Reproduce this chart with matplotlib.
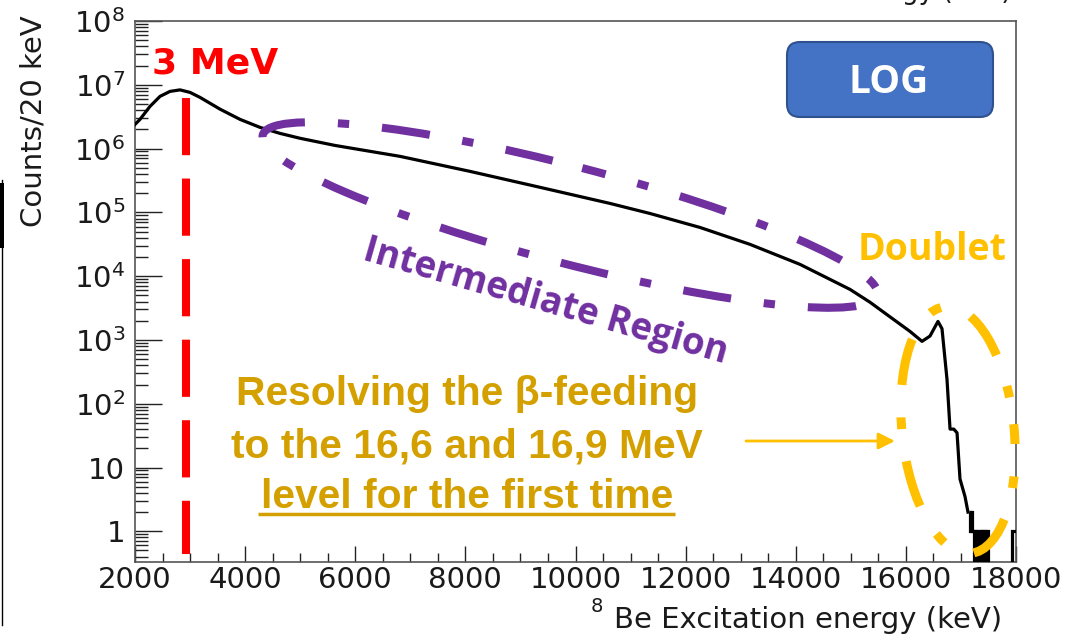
import numpy as np
import matplotlib
matplotlib.use("Agg")
import matplotlib.pyplot as plt
from matplotlib.patches import Ellipse, FancyBboxPatch, Rectangle

# 8Be excitation spectrum: continuum sampled along the measured curve (keV, counts / 20 keV)
energy_keV = [2000, 2091, 2272, 2454, 2636, 2817, 2999, 3180, 3544, 3907, 4270,
              4633, 4997, 5632, 6813, 8084, 9355, 10627, 11353, 12261, 13169,
              14077, 14985, 15348, 15712, 16075, 16293, 16438, 16583, 16656,
              16747, 16802, 16870, 16929, 16983, 17074, 17128]
counts = [2.39e6, 2.87e6, 4.58e6, 6.58e6, 7.88e6, 8.32e6, 7.6e6, 6.35e6, 4.15e6, 2.87e6, 2.15e6,
          1.73e6, 1.45e6, 1.12e6, 7.55e5, 4.39e5, 2.47e5, 1.38e5, 9.6e4, 5.8e4, 3.15e4,
          1.53e4, 6.2e3, 3.9e3, 2.3e3, 1.36e3, 950, 1150, 1950, 1500,
          240, 40, 40, 35, 6.6, 3.5, 2]

# sparse tail above 17.1 MeV, 20 keV bins starting at 17140 keV
tail_start_keV = 17140
bin_width_keV = 20
tail_counts = [2, 1, 2, 1, 1, 0, 1, 0, 1, 1, 0, 1, 0, 1, 0, 1, 0, 1,
               0, 0, 0, 0, 0, 0, 0, 0, 0, 0, 0, 0, 0, 0, 0, 0, 0, 0, 0, 0, 0,
               1, 1, 1, 1]

# axis ticks
x_ticks = [2000, 4000, 6000, 8000, 10000, 12000, 14000, 16000, 18000]
y_ticks = [1, 10, 1e2, 1e3, 1e4, 1e5, 1e6, 1e7, 1e8]
y_ticklabels = ["1", "10", r"$10^{2}$", r"$10^{3}$", r"$10^{4}$", r"$10^{5}$",
                r"$10^{6}$", r"$10^{7}$", r"$10^{8}$"]

# 3 MeV marker
marker_keV = 2930
marker_top, marker_bottom = 6.3e6, 0.44

W, H = 1066, 634
fig = plt.figure(figsize=(W / 100, H / 100), dpi=100)
fig.patch.set_facecolor("white")

ax = fig.add_axes([135 / W, (H - 562) / H, 881 / W, 541 / H])
ax.set_yscale("log")
ax.set_xlim(2000, 18000)
ax.set_ylim(0.33, 1e8)

ax.plot(energy_keV, counts, color="black", lw=2.3, solid_joinstyle="round", zorder=3)
edges = tail_start_keV + bin_width_keV * np.arange(len(tail_counts) + 1)
tail = np.array(tail_counts, dtype=float)
tail = np.where(tail > 0, tail, 0.2)
ax.stairs(tail, edges, baseline=None, color="black", lw=2.3, zorder=3)

ax.plot([marker_keV, marker_keV], [marker_top, marker_bottom], color="#ff0000",
        lw=5.8, linestyle=(0, (7.1, 2.9)), dash_capstyle="butt", zorder=4)

ax.set_xticks(x_ticks)
ax.set_xticklabels([str(v) for v in x_ticks])
ax.xaxis.set_minor_locator(matplotlib.ticker.MultipleLocator(500))
ax.set_yticks(y_ticks)
ax.set_yticklabels(y_ticklabels)
ax.yaxis.set_minor_locator(matplotlib.ticker.LogLocator(base=10, subs=np.arange(2, 10), numticks=40))
ax.yaxis.set_minor_formatter(matplotlib.ticker.NullFormatter())

ax.tick_params(axis="both", which="both", direction="in", top=False, right=False,
               colors="#222222", width=1.0, labelcolor="#1a1a1a")
ax.tick_params(axis="y", which="major", length=19.4, labelsize=21, pad=7)
ax.tick_params(axis="y", which="minor", length=9.4)
ax.tick_params(axis="x", which="major", length=11.5, labelsize=21, pad=3)
ax.tick_params(axis="x", which="minor", length=6.5)
for sp in ax.spines.values():
    sp.set_color("#555555")
    sp.set_linewidth(1.2)

# annotation layer in pixel coordinates
ov = fig.add_axes([0, 0, 1, 1], facecolor="none")
ov.set_xlim(0, W)
ov.set_ylim(H, 0)
ov.axis("off")

ov.text(42, 121, "Counts/20 keV", rotation=90, rotation_mode="anchor",
        ha="center", va="baseline", fontsize=21, color="#1a1a1a")
ov.text(614, 628, "Be Excitation energy (keV)", ha="left", va="baseline",
        fontsize=21, color="#1a1a1a")
ov.text(591, 612, "8", ha="left", va="baseline", fontsize=14, color="#1a1a1a")
ov.text(1012, -1, "Be Excitation energy (keV)", ha="right", va="baseline",
        fontsize=19, color="#1a1a1a")

ov.add_patch(Rectangle((0, 183), 4, 65, color="black", lw=0))
ov.plot([1.5, 1.5], [180, 625], color="black", lw=1.0)

ov.text(152, 74, "3 MeV", color="#ff0000", fontsize=26, fontweight="bold",
        family="DejaVu Sans", ha="left", va="baseline")

ov.add_patch(FancyBboxPatch((787, 42), 206, 75, boxstyle="round,pad=0,rounding_size=13",
                            fc="#4472C4", ec="#2F528F", lw=1.5, zorder=5))
ov.text(889, 93, "LOG", ha="center", va="baseline", fontsize=28, fontweight="bold",
        family="Open Sans", color="white", zorder=6)

purple = "#7030A0"
ov.add_patch(Ellipse((570, 215), 635, 97, angle=14.6, fill=False, ec=purple, lw=5.8,
                     linestyle=(3, (6.0, 4.1, 1.4, 4.1)), capstyle="butt", zorder=4))
ov.text(543, 311, "Intermediate Region", rotation=-16, rotation_mode="anchor",
        ha="center", va="baseline", fontsize=26.5, fontweight="bold",
        family="Open Sans", color=purple)

amber = "#FFC000"
ov.add_patch(Ellipse((958, 430), 248, 112, angle=84, fill=False, ec=amber, lw=6.5,
                     linestyle=(3, (5.2, 3.6, 1.3, 3.6)), capstyle="butt", zorder=4))
ov.text(858, 260, "Doublet", ha="left", va="baseline", fontsize=27, fontweight="bold",
        family="Open Sans", color=amber)

gold = "#D4A000"
lines = ["Resolving the β-feeding", "to the 16,6 and 16,9 MeV", "level for the first time"]
for txt, yb in zip(lines, [405, 457, 508]):
    ov.text(467, yb, txt, ha="center", va="baseline", fontsize=29.3, fontweight="bold",
            family="Liberation Sans", color=gold)
ov.plot([258, 675], [514, 514], color=gold, lw=2.5, solid_capstyle="butt")

ov.annotate("", xy=(895, 441), xytext=(746, 441),
            arrowprops=dict(arrowstyle="-|>", color=amber, lw=2.0, mutation_scale=25,
                            shrinkA=0, shrinkB=0))

fig.savefig("out.png", dpi=100, facecolor="white")
